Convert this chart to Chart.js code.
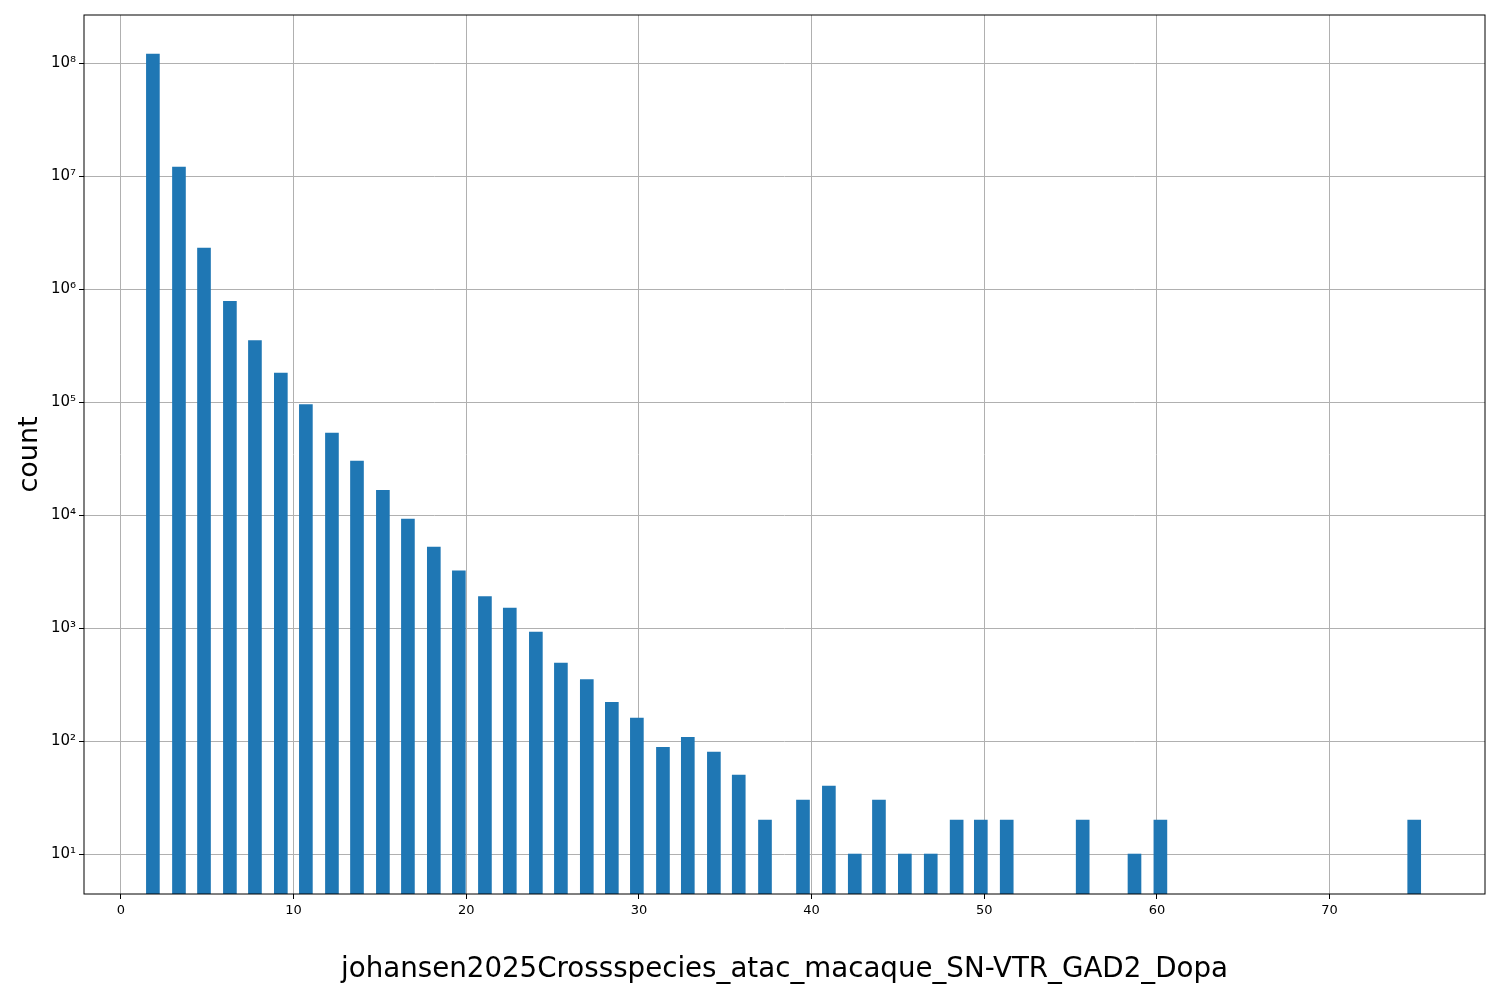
<!DOCTYPE html>
<html>
<head>
<meta charset="utf-8">
<script src="https://cdn.jsdelivr.net/npm/chart.js@4/dist/chart.umd.min.js"></script>
<style>html,body{margin:0;padding:0;background:#fff}#wrap{width:1500px;height:1000px}</style>
</head>
<body>
<div id="wrap"><canvas id="c"></canvas></div>
<script>
const binCenters = [1.85, 3.36, 4.81, 6.31, 7.76, 9.26, 10.71, 12.22, 13.67, 15.17, 16.62, 18.12, 19.57,
  21.08, 22.52, 24.03, 25.48, 26.98, 28.43, 29.88, 31.39, 32.83, 34.34, 35.78, 37.3, 39.5, 41.0, 42.5,
  43.9, 45.4, 46.9, 48.4, 49.8, 51.3, 55.7, 58.7, 60.2, 74.9];
const counts = [1.2e8, 1.2e7, 2.3e6, 7.8e5, 3.5e5, 1.8e5, 9.5e4, 5.3e4, 3.0e4, 1.65e4, 9.2e3, 5.2e3, 3.2e3,
  1.9e3, 1.5e3, 920, 490, 350, 220, 160, 88, 108, 80, 50, 20, 30, 40, 10,
  30, 10, 10, 20, 20, 20, 20, 10, 20, 20];
const xTicks = [0, 10, 20, 30, 40, 50, 60, 70];
const yTicks = [1e1, 1e2, 1e3, 1e4, 1e5, 1e6, 1e7, 1e8];
const sup = {'0':'⁰','1':'¹','2':'²','3':'³','4':'⁴','5':'⁵','6':'⁶','7':'⁷','8':'⁸','9':'⁹'};
const font = {family: 'DejaVu Sans', size: 13};

const boxPlugin = {
  id: 'box',
  afterDraw(chart) {
    const a = chart.chartArea, ctx = chart.ctx;
    ctx.save(); ctx.strokeStyle = '#000'; ctx.lineWidth = 1;
    ctx.strokeRect(a.left, a.top, a.right - a.left, a.bottom - a.top);
    ctx.restore();
  }
};

new Chart(document.getElementById('c'), {
  type: 'bar',
  data: { datasets: [{ data: binCenters.map((x, i) => ({x, y: counts[i]})), backgroundColor: '#1f77b4', barThickness: 13 }] },
  options: {
    responsive: true, maintainAspectRatio: false, animation: false,
    layout: { padding: { top: 15, right: 15, left: 0, bottom: 0 } },
    plugins: { legend: { display: false }, tooltip: { enabled: false } },
    scales: {
      x: {
        type: 'linear', min: -2.14, max: 79.0, offset: false,
        afterBuildTicks: s => { s.ticks = xTicks.map(v => ({value: v})); },
        ticks: { color: '#000', font, callback: v => v, padding: 4 },
        grid: { color: '#b0b0b0', offset: false, drawTicks: true, tickLength: 5, tickColor: '#000' },
        border: { display: false },
        title: { display: true, text: 'johansen2025Crossspecies_atac_macaque_SN-VTR_GAD2_Dopa', color: '#000', font: {family: 'DejaVu Sans', size: 27.7}, padding: {top: 12, bottom: 14} },
        afterFit: s => { s.height = 106; }
      },
      y: {
        type: 'logarithmic', min: 4.43, max: 2.66e8,
        afterBuildTicks: s => { s.ticks = yTicks.map(v => ({value: v})); },
        ticks: { color: '#000', font: {family: 'DejaVu Sans', size: 15}, callback: v => '10' + String(Math.round(Math.log10(v))).split('').map(d => sup[d]).join('') },
        grid: { color: '#b0b0b0', offset: false, tickLength: 5, tickColor: '#000' },
        border: { display: false },
        title: { display: true, text: 'count', color: '#000', font: {family: 'DejaVu Sans', size: 27}, padding: {top: 14, bottom: 0} },
        afterFit: s => { s.width = 84; }
      }
    }
  },
  plugins: [boxPlugin]
});
</script>
</body>
</html>
